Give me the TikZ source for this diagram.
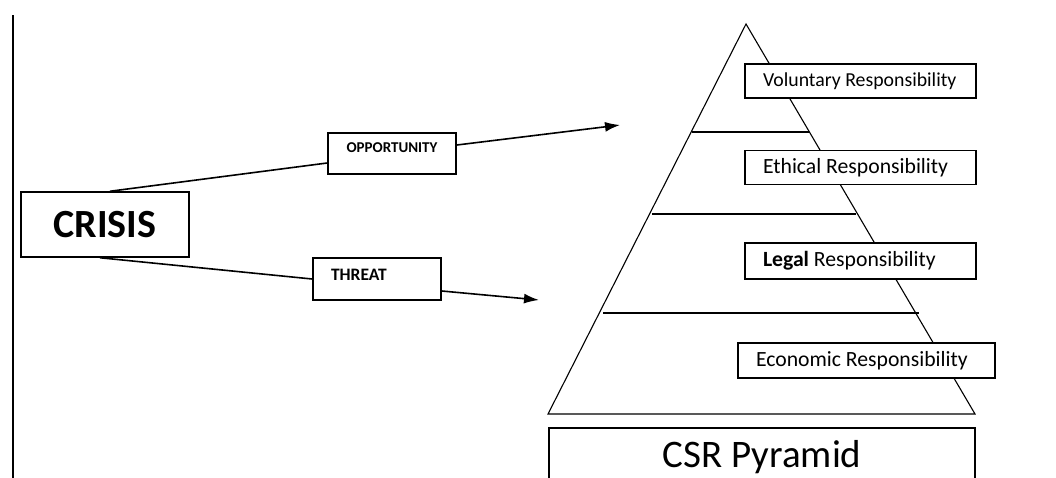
\documentclass[tikz,border=0pt]{standalone}
\usepackage{fontspec}
\setmainfont{Carlito}
\usetikzlibrary{arrows.meta}
\begin{document}
\begin{tikzpicture}[x=1pt,y=-1pt]
		\tikzstyle{boite} = [draw,fill=white,line width=1.7pt,inner sep=0pt]
		\tikzstyle{niveau} = [boite,inner xsep=18pt,align=flush left,minimum height=34pt,font=\fontsize{21.7}{25}\selectfont]
		\tikzstyle{mot} = [boite,font=\bfseries\fontsize{15}{17}\selectfont]
		\tikzstyle{fleche} = [-{Latex[length=15pt,width=10pt]},line width=1.6pt]
		\tikzstyle{trait} = [line width=1.6pt]
		\tikzstyle{etage} = [line width=1.1pt]
		
		\clip (0,0) rectangle (1056,477);
		\fill[white] (0,0) rectangle (1056,477);
		\draw[line width=1.6pt] (13,15) -- (13,480);
		
		% pyramide
		\draw[etage] (746,24) -- (548,414) -- (975,414) -- cycle;
		\draw[etage] (692,132) -- (809,132);
		\draw[etage] (652,214) -- (856,214);
		\draw[etage] (603,313) -- (919,313);
		
		\node[niveau,text width=195pt,font=\fontsize{19.8}{24}\selectfont](volontaire) at (860.5,81) {Voluntary Responsibility};
		\node[niveau,text width=195pt](ethique) at (860.5,167.5) {Ethical Responsibility};
		\node[niveau,text width=195pt,minimum height=36pt](legal) at (860.5,261) {{\bfseries Legal} Responsibility};
		\node[niveau,text width=221pt,minimum height=35pt](economique) at (866.5,360.5) {Economic Responsibility};
		\node[boite,minimum width=426pt,minimum height=58pt,font=\fontsize{39}{44}\selectfont](csr) at (762,457) {CSR Pyramid};
		
		% crise
		\node[boite,line width=1.5pt,minimum width=168pt,minimum height=65pt,font=\bfseries\fontsize{40}{44}\selectfont](crise) at (105,224.5) {CRISIS};
		\node[mot,minimum width=128pt,text height=19.5pt,text depth=21.5pt](opportunite) at (392,153.5) {OPPORTUNITY};
		\node[mot,font=\bfseries\fontsize{17.5}{20}\selectfont,inner xsep=18pt,text width=92pt,align=flush left,text height=22pt,text depth=20pt](menace) at (377,279) {THREAT};
		
		\coordinate (cible1) at (620,125);
		\coordinate (cible2) at (539,300);
		
		\draw[trait] ([xshift=5pt]crise.north) -- ([yshift=-9.5pt]opportunite.west);
		\draw[fleche] ([yshift=8.5pt]opportunite.east) -- (cible1);
		\draw[trait] ([xshift=-5pt]crise.south) -- (menace.west);
		\draw[fleche] ([yshift=-12pt]menace.east) -- (cible2);
\end{tikzpicture}
\end{document}
